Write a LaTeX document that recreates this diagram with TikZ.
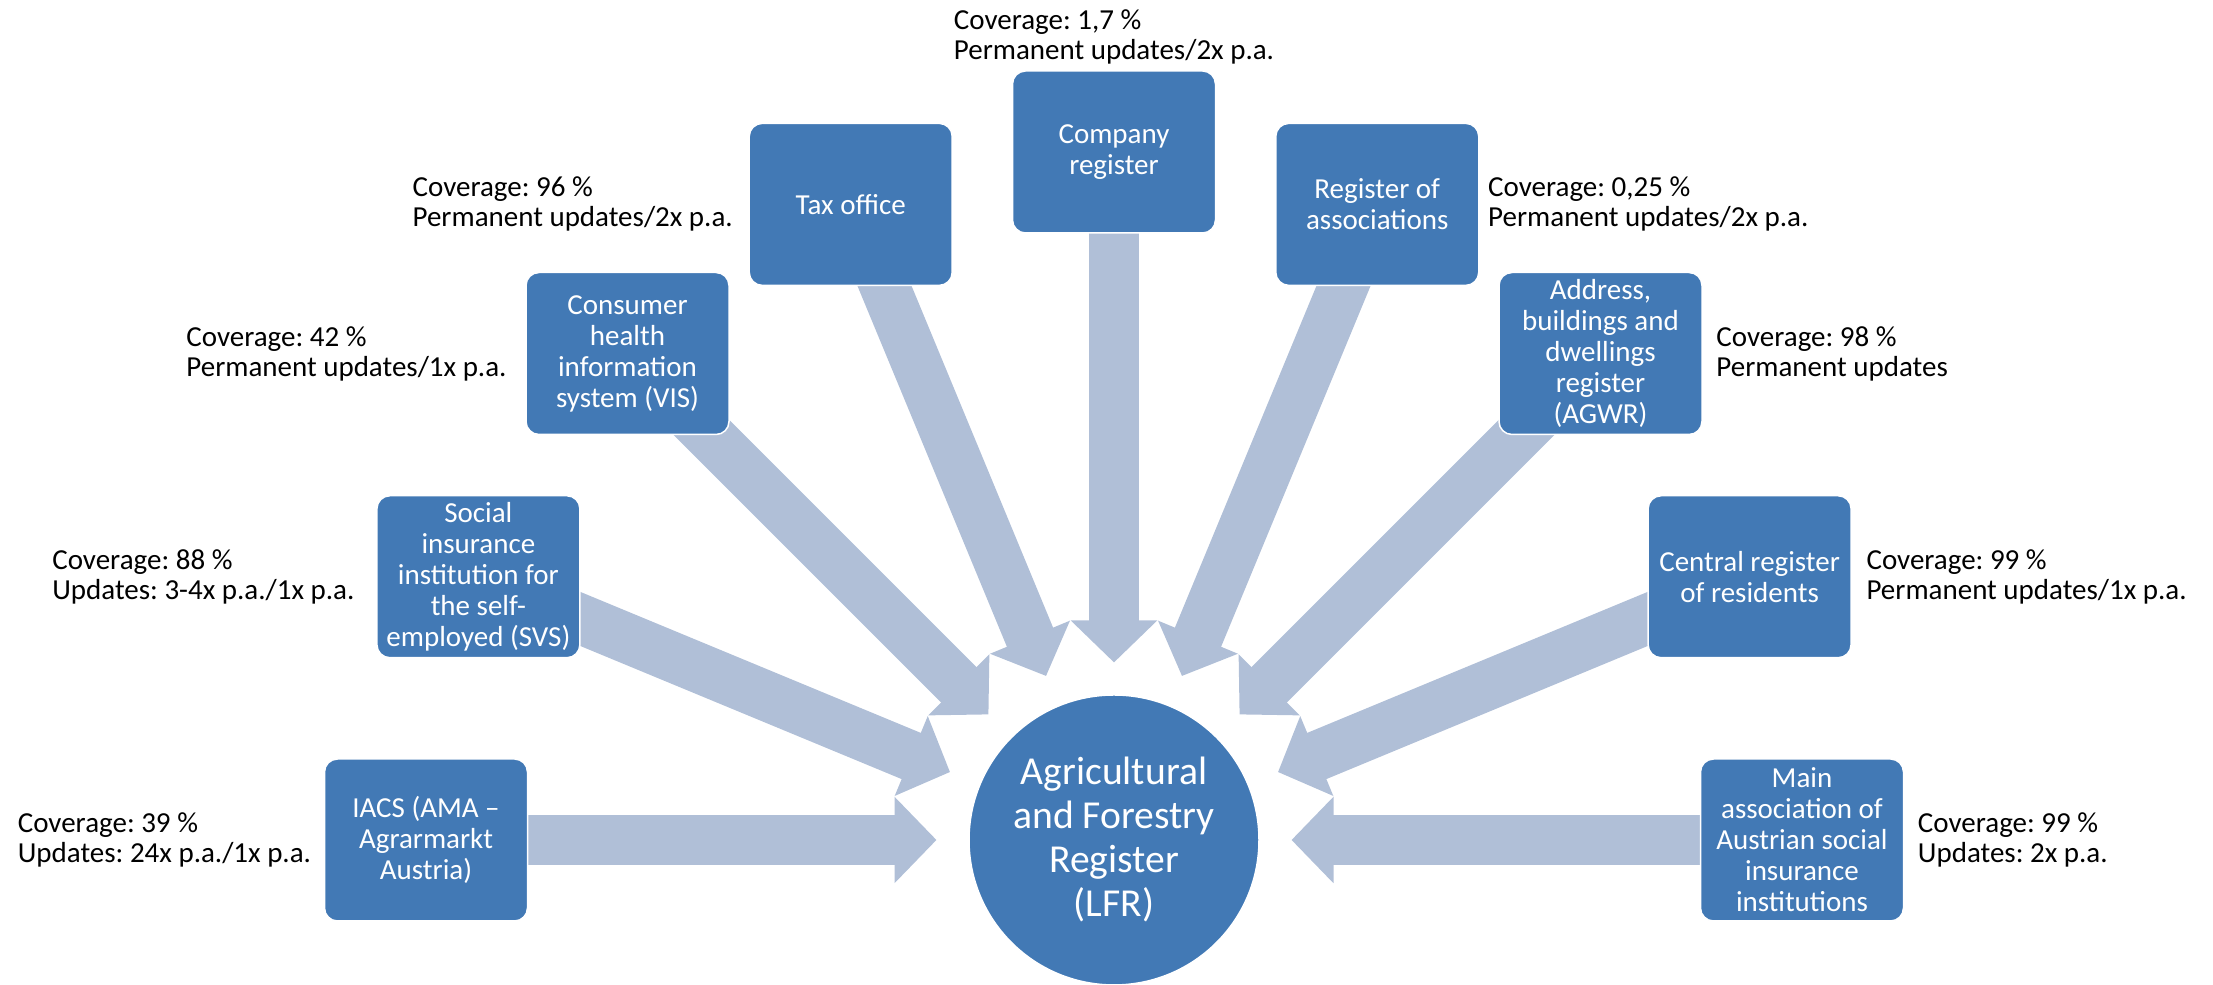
\documentclass[tikz,border=0pt]{standalone}
\usepackage{fontspec}
\setmainfont{Carlito}
\usetikzlibrary{positioning,calc,backgrounds,arrows.meta}
\definecolor{boxblue}{HTML}{4279B5}
\definecolor{arrowblue}{HTML}{B0BFD7}
\frenchspacing
\begin{document}
\begin{tikzpicture}[>={Triangle[length=0.42cm,width=0.84cm]},
	src/.style={draw=white,line width=0.015cm,fill=boxblue,rounded corners=0.13cm,minimum width=2.03cm,minimum height=1.62cm,inner sep=0.03cm,align=center,text=white,font=\fontsize{8.25}{8.82}\selectfont},
	note/.style={inner sep=0pt,align=left,font=\fontsize{8.25}{8.54}\selectfont},
	flow/.style={->,draw=arrowblue,line width=0.5cm}]
	\useasboundingbox (0,0) rectangle (22.13,9.85);
	\node[circle,fill=boxblue,draw=white,line width=0.015cm,minimum size=2.9cm,inner sep=0pt,align=center,text=white,font=\fontsize{11.27}{12.52}\selectfont] (lfr) at (11.14,1.45) {Agricultural\\and Forestry\\Register\\(LFR)};
	\node[src] (iacs) at ($(lfr)+(180:6.88)$) {IACS (AMA –\\Agrarmarkt\\Austria)};
	\node[src] (svs) at ($(lfr)+(157.5:6.88)$) {Social\\insurance\\institution for\\the self-\\employed (SVS)};
	\node[src] (vis) at ($(lfr)+(135:6.88)$) {Consumer\\health\\information\\system (VIS)};
	\node[src] (tax) at ($(lfr)+(112.5:6.88)$) {Tax office};
	\node[src] (company) at ($(lfr)+(90:6.88)$) {Company\\register};
	\node[src] (assoc) at ($(lfr)+(67.5:6.88)$) {Register of\\associations};
	\node[src] (agwr) at ($(lfr)+(45:6.88)$) {Address,\\buildings and\\dwellings\\register\\(AGWR)};
	\node[src] (zmr) at ($(lfr)+(22.5:6.88)$) {Central register\\of residents};
	\node[src] (hv) at ($(lfr)+(0:6.88)$) {Main\\association of\\Austrian social\\insurance\\institutions};
	\coordinate (iacs-tip) at ($(lfr)+(180:1.775)$);
	\coordinate (svs-tip) at ($(lfr)+(157.5:1.775)$);
	\coordinate (vis-tip) at ($(lfr)+(135:1.775)$);
	\coordinate (tax-tip) at ($(lfr)+(112.5:1.775)$);
	\coordinate (company-tip) at ($(lfr)+(90:1.775)$);
	\coordinate (assoc-tip) at ($(lfr)+(67.5:1.775)$);
	\coordinate (agwr-tip) at ($(lfr)+(45:1.775)$);
	\coordinate (zmr-tip) at ($(lfr)+(22.5:1.775)$);
	\coordinate (hv-tip) at ($(lfr)+(0:1.775)$);
	\begin{pgfonlayer}{background}
		\draw[flow] (iacs.center) -- (iacs-tip);
		\draw[flow] (svs.center) -- (svs-tip);
		\draw[flow] (vis.center) -- (vis-tip);
		\draw[flow] (tax.center) -- (tax-tip);
		\draw[flow] (company.center) -- (company-tip);
		\draw[flow] (assoc.center) -- (assoc-tip);
		\draw[flow] (agwr.center) -- (agwr-tip);
		\draw[flow] (zmr.center) -- (zmr-tip);
		\draw[flow] (hv.center) -- (hv-tip);
	\end{pgfonlayer}
	\node[note,left=1.2mm of iacs] (iacs-note) {Coverage: 39 \%\\Updates: 24x p.a./1x p.a.};
	\node[note,left=2.1mm of svs] (svs-note) {Coverage: 88 \%\\Updates: 3-4x p.a./1x p.a.};
	\node[note,left=1.8mm of vis] (vis-note) {Coverage: 42 \%\\Permanent updates/1x p.a.};
	\node[note,left=1.5mm of tax] (tax-note) {Coverage: 96 \%\\Permanent updates/2x p.a.};
	\node[note,above=0.5mm of company] (company-note) {Coverage: 1,7 \%\\Permanent updates/2x p.a.};
	\node[note,right=0.8mm of assoc] (assoc-note) {Coverage: 0,25 \%\\Permanent updates/2x p.a.};
	\node[note,right=1.3mm of agwr] (agwr-note) {Coverage: 98 \%\\Permanent updates};
	\node[note,right=1.4mm of zmr] (zmr-note) {Coverage: 99 \%\\Permanent updates/1x p.a.};
	\node[note,right=1.3mm of hv] (hv-note) {Coverage: 99 \%\\Updates: 2x p.a.};
\end{tikzpicture}
\end{document}
